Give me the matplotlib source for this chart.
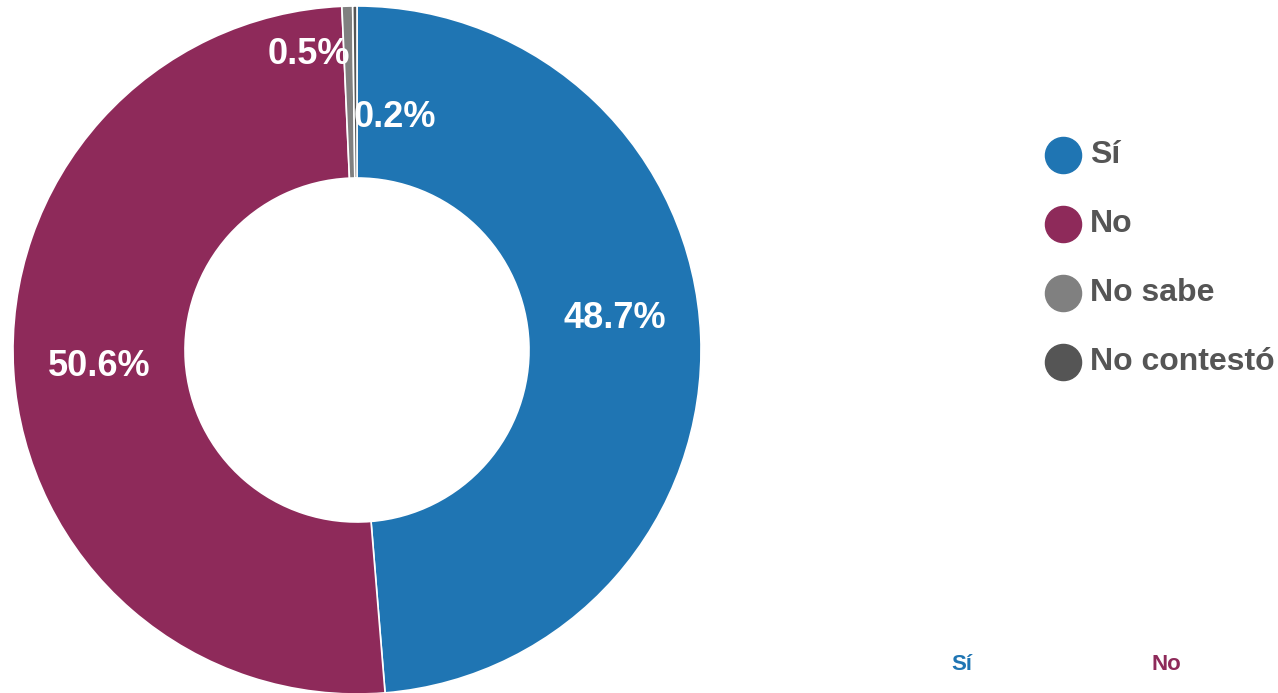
import matplotlib
matplotlib.use("Agg")
import matplotlib.pyplot as plt
from matplotlib.lines import Line2D
import numpy as np

plt.rcParams['font.family'] = ['Liberation Sans', 'DejaVu Sans']

# datos
categorias = ["Sí", "No", "No sabe", "No contestó"]
porcentajes = [48.7, 50.6, 0.5, 0.2]
colores = ["#1f75b3", "#8e2a5a", "#808080", "#555555"]
etiquetas = ["48.7%", "50.6%", "0.5%", "0.2%"]

# texto inferior (de otro grafico, cortado)
pie_texto = ["Sí", "No"]
pie_colores = ["#1f75b3", "#8e2a5a"]

W, H = 1278, 693
fig = plt.figure(figsize=(W / 100, H / 100), dpi=100)
fig.patch.set_facecolor("white")

# donut: centro (357, 350), radio 344 px
cx, cy, R = 357, 350, 344
ax = fig.add_axes([(cx - R) / W, (H - cy - R) / H, 2 * R / W, 2 * R / H])
wedges, _ = ax.pie(porcentajes, colors=colores, startangle=90, counterclock=False,
                   radius=1.0, wedgeprops=dict(width=0.5, edgecolor="white", linewidth=1.2))
ax.set_xlim(-1, 1)
ax.set_ylim(-1, 1)
ax.set_aspect("equal")
ax.axis("off")

# desplazamientos de las etiquetas (en unidades del eje)
ajustes = [(0.0, 0.06), (0.0, 0.0), (-0.12, 0.11), (0.115, -0.075)]
for w, txt, (dx, dy) in zip(wedges, etiquetas, ajustes):
    ang = np.deg2rad((w.theta1 + w.theta2) / 2)
    r = 0.75
    x = r * np.cos(ang) + dx
    y = r * np.sin(ang) + dy
    ax.text(x, y, txt, ha="center", va="center", color="white",
            fontsize=26, fontweight="bold")

# leyenda
leg_x = 1063 / W
leg_y0 = 155
paso = 69
for i, (cat, col) in enumerate(zip(categorias, colores)):
    yy = 1 - (leg_y0 + i * paso) / H
    fig.add_artist(Line2D([leg_x], [yy], marker="o", markersize=26,
                          markerfacecolor=col, markeredgecolor=col,
                          transform=fig.transFigure))
    fig.text(1090 / W, yy, cat, ha="left", va="center", color="#555555",
             fontsize=23, fontweight="bold")

# etiquetas inferiores
for txt, col, xx in zip(pie_texto, pie_colores, [962, 1166]):
    fig.text(xx / W, 1 - 665 / H, txt, ha="center", va="center", color=col,
             fontsize=16, fontweight="bold")

fig.savefig("out.png", dpi=100, facecolor="white")
